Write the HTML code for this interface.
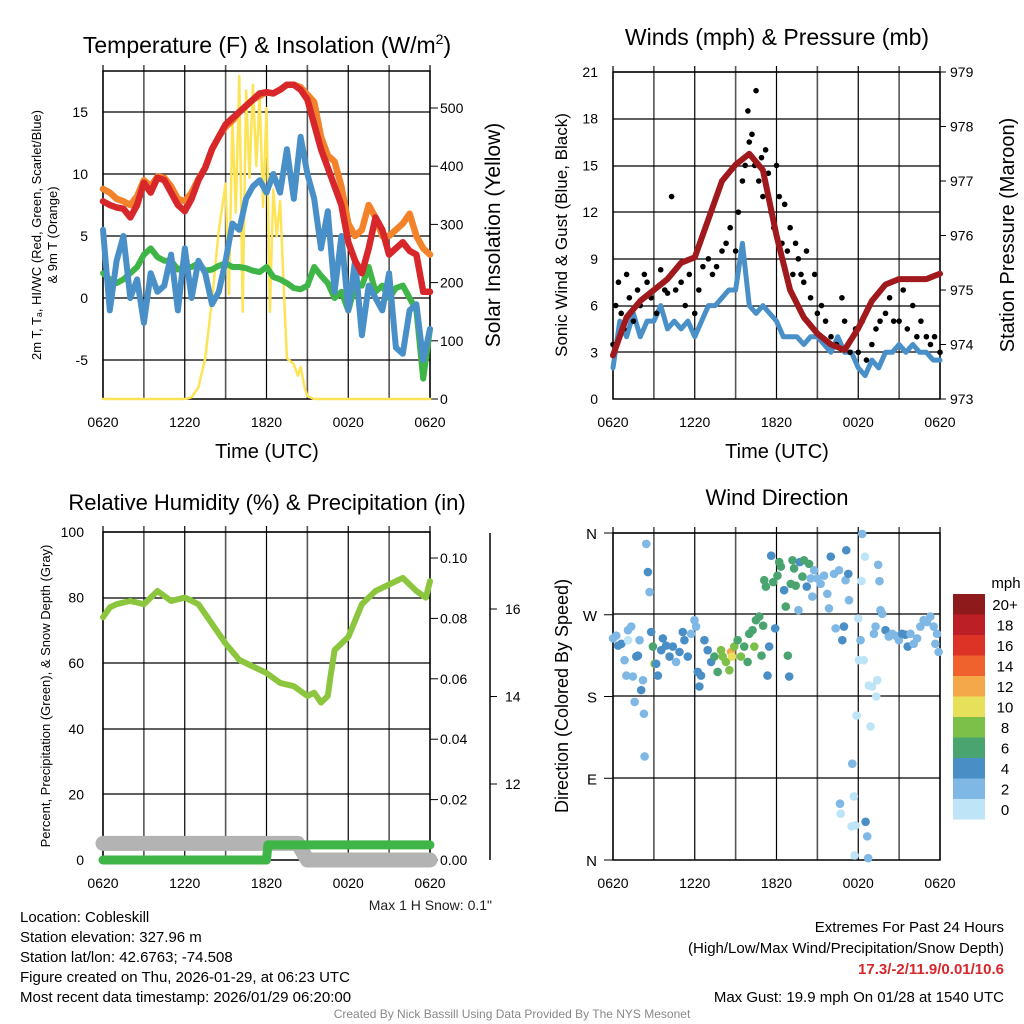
<!DOCTYPE html>
<html><head><meta charset="utf-8">
<style>
html,body{margin:0;padding:0;background:#fff;}
svg{display:block;font-family:"Liberation Sans",sans-serif;}
</style></head>
<body>
<svg id="c" width="1024" height="1024" viewBox="0 0 1024 1024" xmlns="http://www.w3.org/2000/svg"></svg>
<script>
// ---------- DATA ----------
const xTickLabels = ["0620","1220","1820","0020","0620"];
// Panel 1 (hours since 0620, step 0.5)
const tempHours = [0,0.5,1,1.5,2,2.5,3,3.5,4,4.5,5,5.5,6,6.5,7,7.5,8,8.5,9,9.5,10,10.5,11,11.5,12,12.5,13,13.5,14,14.5,15,15.5,16,16.5,17,17.5,18,18.5,19,19.5,20,20.5,21,21.5,22,22.5,23,23.5,24];
const temp2m = [7.8,7.5,7.3,7.2,6.5,7.5,9.3,8.5,9.7,9.5,8.5,7.5,7,8,9.5,10.5,12,13,14,14.5,15,15.5,16,16.5,16.6,16.5,16.8,17.2,17.2,16.8,16,14,12,10.5,9,7.5,4.5,3,2,4,6.5,5.5,3.5,4,4.5,3.8,3.5,0.5,0.5];
const temp9m = [8.8,8.5,8,7.8,7.5,8.2,9.5,9,9.8,9.7,9,8,7.8,8.5,9.6,10.5,12,13,13.8,14.3,15,15.5,16,16.3,16.6,16.5,16.8,17.2,17.2,17,16.4,15.8,13,11.5,11,9,6,5,5.5,7.5,6.5,5,5,5.5,6,6.8,5,4,3.5];
const dewpoint = [2,1.5,1.2,1.5,2,2.5,3.5,4,3.3,3,3,2.3,2.5,2.5,2.8,2.2,2.3,2.6,2.8,2.5,2.5,2.4,2.2,2.1,2.5,1.7,1.5,1.2,0.8,0.7,1,2.5,1.8,1.2,0,0.5,-1,1,1,2.5,0.5,1,0,0.8,1,0,-1,-6.5,-2.5];
const windChill = [5.5,-1,3,5,0,1.5,-2,2,0.5,1,3.5,-1,4,0,3,2,-0.5,0.5,3,6,5.5,8,9,9.5,8.5,10,8.5,12,8,13,10,8,4,7,0.5,5,-1,3,-3,1,0,-1,2,-4,-4.5,-1,-0.5,-5,-2.5];
const solarHours = [0,6,6.5,7,7.5,8,8.5,9,9.25,9.5,9.75,10,10.25,10.5,10.75,11,11.25,11.5,11.75,12,12.25,12.5,12.75,13,13.25,13.5,14,14.3,14.5,14.8,15,15.5,24];
const solarVals = [0,0,3,20,70,170,290,370,180,480,320,555,150,530,380,540,400,520,330,500,150,360,280,340,200,70,60,40,55,20,5,0,0];
// Panel 2
const windHours = [0,0.5,1,1.5,2,2.5,3,3.5,4,4.5,5,5.5,6,6.5,7,7.5,8,8.5,9,9.5,10,10.5,11,11.5,12,12.5,13,13.5,14,14.5,15,15.5,16,16.5,17,17.5,18,18.5,19,19.5,20,20.5,21,21.5,22,22.5,23,23.5,24];
const windSpeed = [2,5,4,5.5,4,5,5,6,4.5,5,4.5,5,4,5,6,6,6.5,7,7,10,6,5.5,6,5.5,5,4,4,4,3.5,4,4,3.5,3,4,3,3,2,1.5,2.5,2,3,3,3.5,3,3.5,3,3,2.5,2.5];
const presHours = [0,1,2,3,4,5,6,7,8,9,10,11,12,13,14,15,16,17,18,19,20,21,22,23,24];
const pressure = [973.8,974.5,974.8,975,975.2,975.5,975.6,976.3,977,977.3,977.5,977.2,976,975,974.5,974.2,974,973.9,974.3,974.8,975.1,975.2,975.2,975.2,975.3];
const gustHours = [0,0.2,0.4,0.6,0.8,1,1.2,1.5,1.8,2,2.3,2.5,2.8,3,3.2,3.5,3.8,4,4.3,4.6,5,5.3,5.6,6,6.3,6.6,7,7.3,7.6,8,8.3,8.6,9,9.2,9.5,9.7,9.9,10,10.2,10.4,10.5,10.7,10.9,11,11.2,11.4,11.6,11.8,12,12.2,12.4,12.6,12.8,13,13.2,13.4,13.6,13.8,14,14.2,14.5,14.8,15,15.3,15.6,16,16.4,16.8,17,17.4,17.8,18,18.3,18.6,19,19.3,19.6,20,20.3,20.6,21,21.3,21.6,22,22.3,22.6,23,23.3,23.6,24];
const gustVals = [3.5,6,7.5,5.5,4.5,8,6.5,5,7,6,8,7.5,6.5,7,5.5,8.3,7,6.8,13,7,7.5,6,8,5.5,7,8.5,9,8,8.5,9.5,10,11,9.5,12,14,15,18.5,16.5,17,15,19.8,14,15.5,13,16,14.5,12,11,15,13,10,12.5,9.5,11,8,10,9,8,7.5,9.5,6.5,8,5.5,6,5,4,3.5,6.5,5,3,4.5,3,5,2.5,3.5,4.5,5,5.5,6.5,5,5,7,4.5,6,4,5,4,3.5,4,3];
// Panel 3
const rhHours = [0,0.5,1,2,3,3.5,4,5,6,7,8,9,10,11,12,13,14,15,15.5,16,16.5,16.7,17,18,19,20,21,22,23,23.7,24];
const rhVals = [74,77,78,79,78,80,82,79,80,78,72,66,61,59,57,54,53,50,51,48,50,56,64,68,78,82,84,86,82,80,85];
const precipHours = [0,12,12.1,24];
const precipVals = [0,0,0.005,0.005];
const snowHours = [0,14.3,15,24];
const snowVals = [0.0055,0.0055,0,0];
// Panel 4 wind direction scatter
const dirHours = [0,0.24,0.37,0.61,0.85,0.98,1.1,1.1,1.34,1.46,1.59,1.71,1.83,1.95,2.07,2.2,2.27,2.32,2.44,2.56,2.68,2.8,2.93,3.05,3.17,3.29,3.54,3.66,3.9,4.15,4.39,4.63,4.88,5.12,5.24,5.49,5.73,5.98,6.1,6.22,6.34,6.46,6.71,6.95,7.2,7.44,7.68,7.93,8.05,8.29,8.54,8.66,8.73,8.9,9.15,9.39,9.63,9.88,10,10.24,10.37,10.49,10.73,10.9,11.02,11.1,11.22,11.34,11.46,11.61,11.76,11.9,12.07,12.2,12.32,12.56,12.68,12.83,12.93,13.05,13.17,13.29,13.41,13.61,13.71,13.9,14.02,14.22,14.39,14.51,14.63,14.76,15,15.24,15.49,15.73,15.85,15.98,16.22,16.34,16.59,16.66,16.71,16.83,16.95,17.07,17.12,17.27,17.32,17.51,17.56,17.68,17.73,17.8,17.88,18,18.05,18.17,18.29,18.41,18.49,18.24,18.54,18.66,18.73,18.78,18.9,19.02,19.15,19.27,19.32,19.39,19.46,19.56,19.63,19.76,20,20.24,20.49,20.73,20.98,21.22,21.46,21.63,21.83,22.07,22.32,22.56,22.8,23.05,23.29,23.54,23.66,23.78,23.9];
const dirDeg = [244,247,236,238,220,203,253,242,257,202,174,224,225,242,187,198,161,114,348,317,295,251,235,216,216,203,231,244,236,224,235,218,229,251,242,224,249,264,257,207,191,203,242,231,218,224,207,231,224,218,209,229,224,235,242,224,235,218,249,253,235,264,268,225,258,308,301,203,235,335,306,255,313,328,323,297,279,225,202,304,330,321,302,275,328,312,330,301,326,310,290,319,310,304,313,293,277,334,315,255,319,62,51,242,257,308,341,315,286,37,106,70,5,38,159,266,220,242,359,220,334,307,42,26,2,192,147,191,249,257,180,198,325,307,275,271,253,246,249,247,242,249,248,235,249,238,244,257,264,262,268,257,238,249,229];
const dirSpeed = [3,3,5,5,3,3,3,1,3,3,3,5,5,3,5,3,3,3,3,5,3,5,7,9,5,5,5,5,5,5,5,3,5,5,5,5,3,3,3,5,5,5,5,5,5,7,7,9,9,9,9,13,11,9,7,9,7,7,7,7,9,7,7,7,7,7,7,5,5,5,7,5,7,7,7,5,7,7,5,7,7,7,7,3,5,7,7,5,7,3,3,3,3,3,3,3,3,5,3,3,3,3,1,5,5,3,5,5,3,1,3,1,1,1,1,1,1,3,3,1,1,1,5,3,3,1,1,1,3,3,1,1,3,3,3,3,5,3,3,3,3,5,5,5,3,3,3,3,3,3,3,3,3,3,3];
const legendLabels = ["20+","18","16","14","12","10","8","6","4","2","0"];
const legendColors = ["#8f1a1b","#bd1f26","#dd3327","#ef622e","#f5a84a","#e6e05a","#7cc04a","#4aa470","#4a8ec6","#7fb8e4","#bde4f7"];

// ---------- HELPERS ----------
const NS="http://www.w3.org/2000/svg";
const svg=document.getElementById('c');
function el(tag,attrs,parent){const e=document.createElementNS(NS,tag);for(const k in attrs)e.setAttribute(k,attrs[k]);(parent||svg).appendChild(e);return e;}
function txt(x,y,s,size,anchor,name,extra){const t=el('text',Object.assign({x:x,y:y,'font-size':size,'text-anchor':anchor||'start',fill:'#000'},extra||{}));t.textContent=s;


return t;}
function vtxt(x,y,s,size,name){const t=el('text',{x:0,y:0,'font-size':size,'text-anchor':'middle',transform:`translate(${x},${y}) rotate(-90)`});t.textContent=s;


return t;}
function lin(d0,d1,r0,r1){return v=>r0+(v-d0)*(r1-r0)/(d1-d0);}
function polyline(xs,ys,fx,fy,stroke,w,name){const pts=xs.map((x,i)=>fx(x).toFixed(1)+','+fy(ys[i]).toFixed(1)).join(' ');const p=el('polyline',{points:pts,fill:'none',stroke:stroke,'stroke-width':w,'stroke-linejoin':'round','stroke-linecap':'round'});


return p;}
function frame(x0,x1,y0,y1,hlines,name){
  const g=el('g',{});
  
  
  for(let i=0;i<=8;i++){const x=x0+(x1-x0)*i/8;el('line',{x1:x,y1:y0-6,x2:x,y2:y1,stroke:i%2?'#555':'#000','stroke-width':i%2?1.6:1.2},g);}
  hlines.forEach(y=>el('line',{x1:x0,y1:y,x2:x1,y2:y,stroke:'#000','stroke-width':1.2},g));
  el('rect',{x:x0,y:y0,width:x1-x0,height:y1-y0,fill:'none',stroke:'#000','stroke-width':1.5},g);
  xTickLabels.forEach((s,i)=>txt(x0+(x1-x0)*i/4,y1+28,s,14,'middle','x-tick-label'));
  return g;}

// ---------- PANEL 1 ----------
{
const X0=103,X1=430;
const fx=lin(0,24,X0,X1), fy=lin(0,15,298,112), fs=lin(0,500,399,108);
frame(X0,X1,71,399,[112,174,236,298,360],'temperature-plot-frame');
[15,10,5,0,-5].forEach(v=>txt(88,fy(v)+5,String(v),14,'end','y-tick-label-temp'));
[0,100,200,300,400,500].forEach(v=>{txt(440,fs(v)+5,String(v),14,'start','y-tick-label-solar');el('line',{x1:X1,y1:fs(v),x2:X1+8,y2:fs(v),stroke:'#000','stroke-width':1});});
polyline(solarHours,solarVals,fx,fs,'#fde456',2.5,'solar-insolation-line');
polyline(tempHours,dewpoint,fx,fy,'#3fb548',6,'dewpoint-line');
polyline(tempHours,windChill,fx,fy,'#4a90c8',6,'windchill-line');
polyline(tempHours,temp9m,fx,fy,'#f2832b',6.5,'temp-9m-line');
polyline(tempHours,temp2m,fx,fy,'#d7272a',6.5,'temp-2m-line');
const tt=el('text',{x:267,y:53,'font-size':23,'text-anchor':'middle'});


tt.innerHTML='Temperature (F) &amp; Insolation (W/m<tspan dy="-9" font-size="14">2</tspan><tspan dy="9">)</tspan>';
txt(267,458,'Time (UTC)',20,'middle','x-axis-title-1');
vtxt(41,235,'2m T, T\u2090, HI/WC (Red, Green, Scarlet/Blue)',13,'y-axis-title-temp-1');
vtxt(57,235,'& 9m T (Orange)',13,'y-axis-title-temp-2');
vtxt(500,235,'Solar Insolation (Yellow)',21,'y-axis-title-solar');
}
// ---------- PANEL 2 ----------
{
const X0=613,X1=940;
const fx=lin(0,24,X0,X1), fy=lin(0,21,399,72), fp=lin(973,979,399,72);
frame(X0,X1,72,399,[72,119,166,212,259,306,352],'winds-plot-frame');
[0,3,6,9,12,15,18,21].forEach(v=>txt(598,fy(v)+5,String(v),14,'end','y-tick-label-wind'));
[973,974,975,976,977,978,979].forEach(v=>{txt(950,fp(v)+5,String(v),14,'start','y-tick-label-pressure');el('line',{x1:X1,y1:fp(v),x2:X1+6,y2:fp(v),stroke:'#000'});});
polyline(windHours,windSpeed,fx,fy,'#4a90c8',5,'wind-speed-line');
gustHours.forEach((h,i)=>{const c=el('circle',{cx:fx(h),cy:fy(gustVals[i]),r:2.8,fill:'#000'});

});
polyline(presHours,pressure,fx,fp,'#a0191c',6,'pressure-line');
txt(777,45,'Winds (mph) & Pressure (mb)',23,'middle','winds-title');
txt(777,458,'Time (UTC)',20,'middle','x-axis-title-2');
vtxt(567,235,'Sonic Wind & Gust (Blue, Black)',17,'y-axis-title-wind');
vtxt(1014,235,'Station Pressure (Maroon)',20,'y-axis-title-pressure');
}
// ---------- PANEL 3 ----------
{
const X0=103,X1=430;
const fx=lin(0,24,X0,X1), fy=lin(0,100,860,532), fr=lin(0,0.1,860,558), fsn=lin(12,16,784,609);
frame(X0,X1,532,860,[532,598,663,729,794],'humidity-plot-frame');
[0,20,40,60,80,100].forEach(v=>txt(84,fy(v)+5,String(v),14,'end','y-tick-label-rh'));
[0,0.02,0.04,0.06,0.08,0.10].forEach(v=>{txt(440,fr(v)+5,v.toFixed(2),14,'start','y-tick-label-precip');el('line',{x1:X1,y1:fr(v),x2:X1+8,y2:fr(v),stroke:'#000'});});
el('line',{x1:490,y1:533,x2:490,y2:860,stroke:'#000','stroke-width':1.5});
[12,14,16].forEach(v=>{txt(505,fsn(v)+5,String(v),14,'start','y-tick-label-snow');el('line',{x1:490,y1:fsn(v),x2:497,y2:fsn(v),stroke:'#000'});});
polyline(rhHours,rhVals,fx,fy,'#8cc63f',6,'rh-line');
polyline(snowHours,snowVals,fx,fr,'#b3b3b3',15,'snow-depth-line');
polyline(precipHours,precipVals,fx,fr,'#3fb548',9,'precip-line');
txt(267,510,'Relative Humidity (%) & Precipitation (in)',22,'middle','humidity-title');
vtxt(50,696,'Percent, Precipitation (Green), & Snow Depth (Gray)',13,'y-axis-title-humidity');
txt(492,910,'Max 1 H Snow: 0.1"',14,'end','max-snow-note',{fill:'#222'});
}
// ---------- PANEL 4 ----------
{
const X0=613,X1=940;
const fx=lin(0,24,X0,X1), fy=lin(0,360,860,533);
frame(X0,X1,533,860,[533,614,696,778],'wind-direction-plot-frame');
['N','W','S','E','N'].forEach((s,i)=>{txt(597,fy(360-90*i)+6,s,15,'end','y-tick-label-direction');el('line',{x1:604,y1:fy(360-90*i),x2:X0,y2:fy(360-90*i),stroke:'#000'});});
function col(s){const b=Math.min(10,Math.floor(s/2));return legendColors[10-b];}
dirHours.forEach((h,i)=>{const c=el('circle',{cx:fx(h),cy:fy(dirDeg[i]),r:4.3,fill:col(dirSpeed[i])});

});
txt(777,505,'Wind Direction',22,'middle','wind-direction-title');
vtxt(568,696,'Direction (Colored By Speed)',18,'y-axis-title-direction');
txt(1006,588,'mph',15,'middle','legend-title');
legendColors.forEach((c,i)=>{const r=el('rect',{x:953,y:594+i*20.5,width:32,height:20.5,fill:c});


txt(1005,610+i*20.5,legendLabels[i],15,'middle','legend-label');});
}
// ---------- FOOTER TEXT ----------
const info=['Location: Cobleskill','Station elevation: 327.96 m','Station lat/lon: 42.6763; -74.508','Figure created on Thu, 2026-01-29, at 06:23 UTC','Most recent data timestamp: 2026/01/29 06:20:00'];
info.forEach((s,i)=>txt(20,922+i*20,s,15,'start','station-info-line'));
txt(1004,932,'Extremes For Past 24 Hours',15,'end','extremes-heading');
txt(1004,953,'(High/Low/Max Wind/Precipitation/Snow Depth)',15,'end','extremes-legend');
txt(1004,974,'17.3/-2/11.9/0.01/10.6',15,'end','extremes-values',{fill:'#d7272a','font-weight':'bold'});
txt(1004,1002,'Max Gust: 19.9 mph On 01/28 at 1540 UTC',15,'end','max-gust');
txt(512,1018,'Created By Nick Bassill Using Data Provided By The NYS Mesonet',12,'middle','credit',{fill:'#888'});
</script>
</body></html>
